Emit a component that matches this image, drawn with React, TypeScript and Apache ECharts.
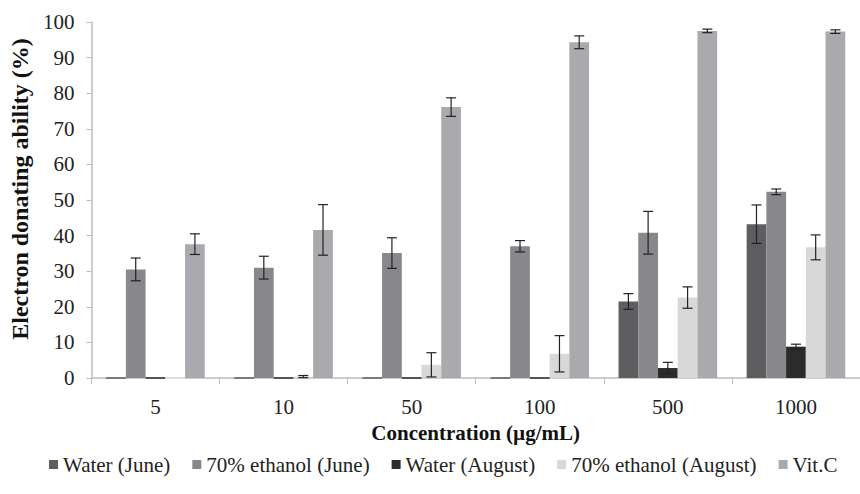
import React, { useEffect, useRef } from "react";
import * as echarts from "echarts";

const categories = ["5", "10", "50", "100", "500", "1000"];
const seriesNames = ["Water (June)", "70% ethanol (June)", "Water (August)", "70% ethanol (August)", "Vit.C"];
const waterJune = [0, 0, 0, 0, 21.5, 43.2];
const waterJuneErr = [0, 0, 0, 0, 2.2, 5.4];
const ethanolJune = [30.5, 31.0, 35.1, 37.0, 40.8, 52.3];
const ethanolJuneErr = [3.2, 3.2, 4.3, 1.6, 6.0, 0.8];
const waterAug = [0, 0, 0, 0, 2.8, 8.8];
const waterAugErr = [0, 0, 0, 0, 1.6, 0.7];
const ethanolAug = [0, 0.4, 3.7, 6.8, 22.6, 36.7];
const ethanolAugErr = [0, 0.3, 3.4, 5.1, 3.0, 3.5];
const vitC = [37.6, 41.6, 76.1, 94.3, 97.5, 97.3];
const vitCErr = [2.9, 7.1, 2.6, 1.8, 0.5, 0.5];
const yTicks = [0, 10, 20, 30, 40, 50, 60, 70, 80, 90, 100];

const values = [waterJune, ethanolJune, waterAug, ethanolAug, vitC];
const errors = [waterJuneErr, ethanolJuneErr, waterAugErr, ethanolAugErr, vitCErr];
const colors = ["#5e5e60", "#88888c", "#2b2b2b", "#d8d8d8", "#aaaaae"];

const FONT = "'Liberation Serif', 'Times New Roman', serif";
const CAT_GAP = 0.23;

export default function App() {
  const ref = useRef<HTMLDivElement>(null);
  useEffect(() => {
    document.body.style.margin = "0";
    if (!ref.current) return;
    const chart = echarts.init(ref.current, null, { renderer: "svg" });
    const n = values.length;
    const barSeries = values.map((vals, k) => ({
      name: seriesNames[k],
      type: "bar",
      data: vals,
      barGap: "0%",
      barCategoryGap: CAT_GAP * 100 + "%",
      itemStyle: { color: colors[k] },
      z: 2,
    }));
    const errSeries = values.map((vals, k) => ({
      type: "custom",
      silent: true,
      z: 5,
      data: vals.map((v, i) => [i, v, errors[k][i]]),
      renderItem: (params: any, api: any) => {
        const i = api.value(0);
        const v = api.value(1);
        const e = api.value(2);
        const band = api.size([1, 0])[0];
        const bw = (band * (1 - CAT_GAP)) / n;
        const c = api.coord([i, v]);
        const cx = c[0] + (k - (n - 1) / 2) * bw;
        if (v === 0 && e === 0) {
          return {
            type: "line",
            shape: { x1: cx - bw / 2, y1: c[1], x2: cx + bw / 2, y2: c[1] },
            style: { stroke: colors[k] === "#d8d8d8" ? "#e4e4e4" : colors[k], lineWidth: 1.5 },
          };
        }
        const top = api.coord([i, v + e])[1];
        const bot = api.coord([i, Math.max(0, v - e)])[1];
        const cap = 5;
        const st = { stroke: "#222", lineWidth: 1.2 };
        return {
          type: "group",
          children: [
            { type: "line", shape: { x1: cx, y1: top, x2: cx, y2: bot }, style: st },
            { type: "line", shape: { x1: cx - cap, y1: top, x2: cx + cap, y2: top }, style: st },
            { type: "line", shape: { x1: cx - cap, y1: bot, x2: cx + cap, y2: bot }, style: st },
          ],
        };
      },
    }));
    chart.setOption({
      animation: false,
      backgroundColor: "#ffffff",
      grid: { left: 91, top: 22, width: 782, height: 356, containLabel: false },
      legend: {
        data: seriesNames,
        top: 449,
        left: 44,
        itemWidth: 9,
        itemHeight: 9,
        itemGap: 22,
        icon: "rect",
        textStyle: { fontFamily: FONT, fontSize: 21, color: "#222" },
      },
      xAxis: {
        type: "category",
        data: categories,
        name: "Concentration (\u00b5g/mL)",
        nameLocation: "middle",
        nameGap: 44,
        nameTextStyle: { fontFamily: FONT, fontSize: 21, fontWeight: "bold", color: "#111" },
        axisLine: { lineStyle: { color: "#bdbdbd", width: 1.5 } },
        axisTick: { show: true, length: 6, lineStyle: { color: "#bdbdbd" } },
        axisLabel: { fontFamily: FONT, fontSize: 21, color: "#222", margin: 18 },
      },
      yAxis: {
        type: "value",
        min: yTicks[0],
        max: yTicks[yTicks.length - 1],
        interval: 10,
        name: "Electron donating ability (%)",
        nameLocation: "middle",
        nameGap: 58,
        nameTextStyle: {
          fontFamily: FONT,
          fontSize: 24,
          fontWeight: "bold",
          color: "#111",
          padding: [0, 0, 0, 22],
        },
        axisLine: { show: true, lineStyle: { color: "#bdbdbd", width: 1.5 } },
        axisTick: { show: true, length: 5, lineStyle: { color: "#bdbdbd" } },
        splitLine: { show: false },
        axisLabel: { fontFamily: FONT, fontSize: 21, color: "#222", margin: 17 },
      },
      series: [...barSeries, ...errSeries],
    });
    return () => chart.dispose();
  }, []);
  return <div ref={ref} style={{ width: 860, height: 494 }} />;
}
